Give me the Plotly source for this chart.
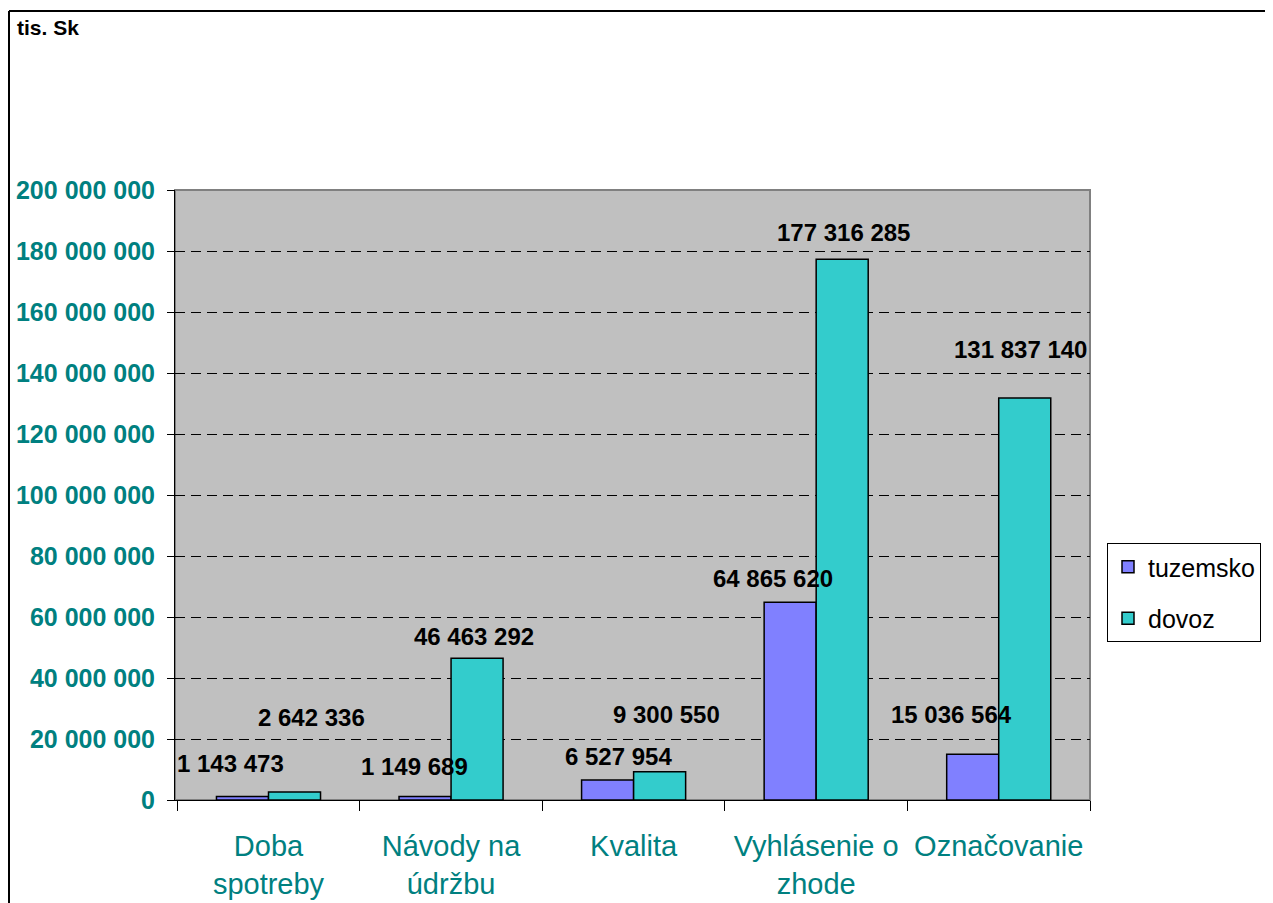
import plotly.graph_objects as go

categories = ["Doba<br>spotreby", "Návody na<br>údržbu", "Kvalita", "Vyhlásenie o<br>zhode", "Označovanie"]
tuzemsko = [1143473, 1149689, 6527954, 64865620, 15036564]
dovoz = [2642336, 46463292, 9300550, 177316285, 131837140]

# label offsets (px) to mimic the original label placement
tuz_dx = [-38, -37, -15, -43, -47]
tuz_dy = [33, 30, 24, 24, 40]
dov_dx = [43, 23, 33, 27, 22]
dov_dy = [74, 22, 57, 27, 48]

TEAL = "#008080"
FONT = "Liberation Sans, Arial"

# page has an 8px body margin, so the figure is laid out 8px smaller
L, T, PW, PH = 167, 182, 915, 610
W, H = 1265, 895


def fmt(v):
    return f"{v:,}".replace(",", " ")


fig = go.Figure()
fig.add_trace(go.Bar(
    x=categories, y=tuzemsko, name="tuzemsko",
    marker=dict(color="#8080FF", line=dict(color="black", width=1.5)),
    legendgroup="a",
))
fig.add_trace(go.Bar(
    x=categories, y=dovoz, name="dovoz",
    marker=dict(color="#33CCCC", line=dict(color="black", width=1.5)),
    legendgroup="b",
))

for series, dx, dy in [(tuzemsko, tuz_dx, tuz_dy), (dovoz, dov_dx, dov_dy)]:
    for cat, v, sx, sy in zip(categories, series, dx, dy):
        fig.add_annotation(
            x=cat, y=v, text=fmt(v), showarrow=False,
            xshift=sx, yshift=sy, xanchor="center", yanchor="middle",
            font=dict(family=FONT, size=24, color="black", weight="bold"),
        )


def px_x(p):
    return (p - 8 - L) / PW


def px_y(p):
    return (T + PH - (p - 8)) / PH


fig.add_annotation(
    text="<b>tis. Sk</b>", xref="paper", yref="paper",
    x=px_x(15), y=px_y(28), xanchor="left", yanchor="middle",
    showarrow=False, font=dict(family=FONT, size=21, color="black"),
)

# outer chart border (left and top edges visible)
bx, by = px_x(9), px_y(11)
fig.add_shape(type="line", xref="paper", yref="paper", x0=bx, x1=bx, y0=-0.3, y1=by,
              line=dict(color="black", width=2))
fig.add_shape(type="line", xref="paper", yref="paper", x0=bx, x1=1.3, y0=by, y1=by,
              line=dict(color="black", width=2))
# plot area frame
fig.add_shape(type="rect", xref="paper", yref="paper", x0=0, x1=1, y0=0, y1=1,
              line=dict(color="#808080", width=2), layer="below")

fig.update_layout(
    width=W, height=H,
    margin=dict(l=L, r=W - L - PW, t=T, b=H - T - PH),
    paper_bgcolor="white",
    plot_bgcolor="#C0C0C0",
    barmode="group",
    bargap=0.43,
    bargroupgap=0,
    separators=". ",
    font=dict(family=FONT, color=TEAL),
    showlegend=True,
    legend=dict(
        x=px_x(1107), y=px_y(543), xanchor="left", yanchor="top",
        bordercolor="black", borderwidth=1, bgcolor="white",
        font=dict(family=FONT, size=25, color="black"),
        traceorder="grouped", tracegroupgap=16,
    ),
    xaxis=dict(
        showgrid=False, showline=True, linecolor="black", linewidth=1,
        ticks="outside", tickson="boundaries", ticklen=10, tickcolor="black",
        tickfont=dict(size=29, color=TEAL), ticklabelstandoff=20,
        automargin=False,
    ),
    yaxis=dict(
        range=[0, 200000000], dtick=20000000, tickformat=",d",
        showgrid=True, gridcolor="black", gridwidth=1, griddash="10px,6px",
        showline=True, linecolor="black", linewidth=1, zeroline=False,
        ticks="outside", ticklen=7, tickcolor="black",
        tickfont=dict(size=25, color=TEAL, weight="bold"), ticklabelstandoff=7,
        automargin=False,
    ),
)

fig.write_html("out.html")
